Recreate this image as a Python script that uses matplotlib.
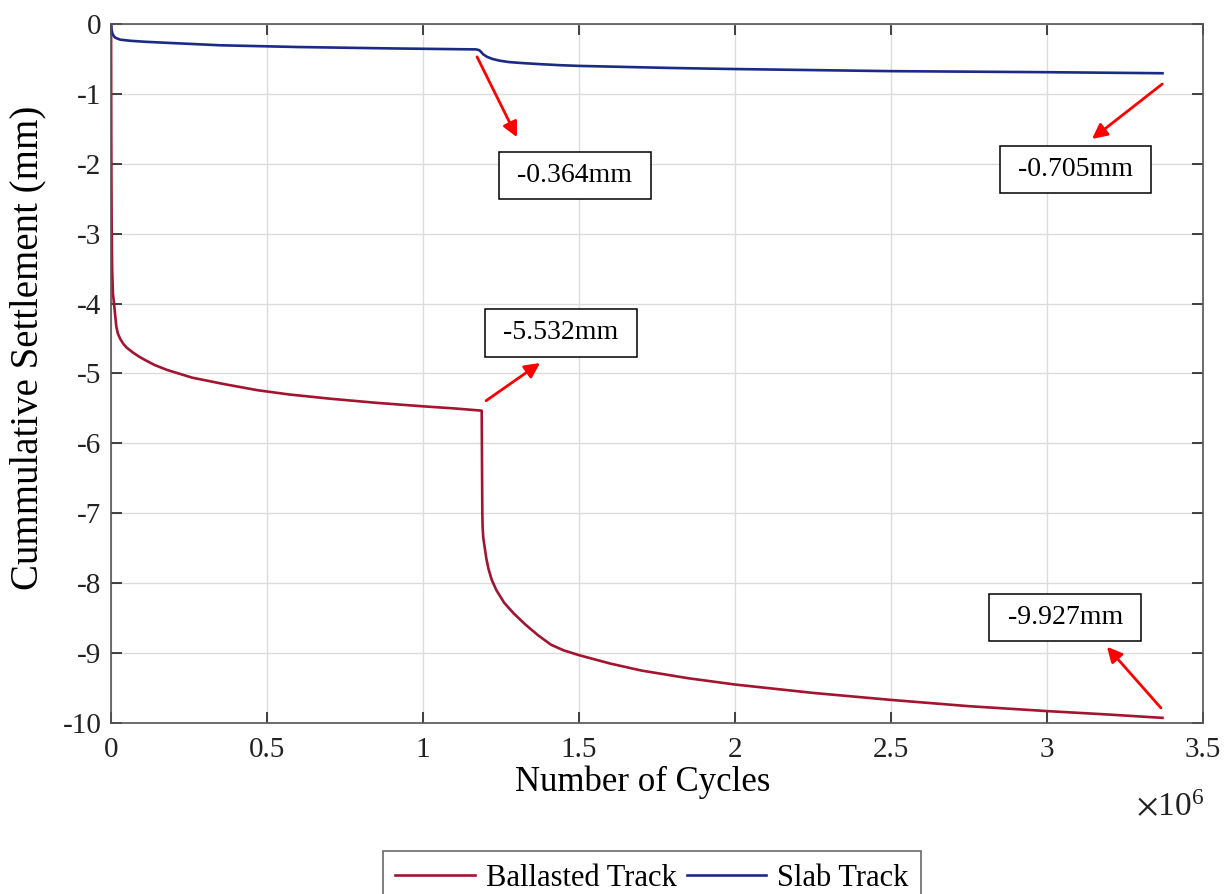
import matplotlib.pyplot as plt
from matplotlib.ticker import FuncFormatter

plt.rcParams['font.family'] = ['Liberation Serif', 'DejaVu Serif']
plt.rcParams['mathtext.fontset'] = 'stix'
plt.rcParams['axes.unicode_minus'] = False

# values (cycles, mm)
ballast_x = [0, 500, 1000, 2000, 3500, 6000, 10000, 14000, 17000, 22000, 30000,
             40000, 50000, 70000, 90000, 110000, 140000, 180000, 260000, 360000,
             470000, 570000, 700000, 850000, 1000000, 1100000, 1188000,
             1189000, 1190000, 1191000, 1193000, 1198000, 1203000, 1210000,
             1220000, 1235000, 1260000, 1290000, 1330000, 1370000, 1410000,
             1450000, 1500000, 1600000, 1700000, 1850000, 2000000, 2250000,
             2500000, 2750000, 3000000, 3200000, 3370000]
ballast_y = [0, -1.2, -2.0, -2.9, -3.5, -3.85, -4.02, -4.2, -4.33, -4.43, -4.51,
             -4.58, -4.63, -4.7, -4.76, -4.81, -4.88, -4.95, -5.06, -5.15,
             -5.24, -5.3, -5.36, -5.42, -5.47, -5.5, -5.532,
             -6.3, -7.0, -7.2, -7.35, -7.5, -7.65, -7.8,
             -7.95, -8.1, -8.28, -8.43, -8.6, -8.75, -8.88,
             -8.96, -9.03, -9.15, -9.25, -9.36, -9.45, -9.57,
             -9.67, -9.76, -9.83, -9.88, -9.927]

slab_x = [0, 1500, 4000, 8000, 15000, 30000, 60000, 110000, 180000, 350000,
          600000, 900000, 1170000, 1180000, 1186000, 1193000, 1205000, 1222000,
          1245000, 1275000, 1320000, 1375000, 1440000, 1500000, 1650000, 1800000,
          2000000, 2500000, 3000000, 3370000]
slab_y = [0, -0.08, -0.13, -0.17, -0.2, -0.225, -0.24, -0.255, -0.27, -0.305,
          -0.33, -0.35, -0.364, -0.375, -0.4, -0.435, -0.47, -0.5,
          -0.525, -0.545, -0.56, -0.575, -0.59, -0.6, -0.615, -0.63,
          -0.645, -0.675, -0.69, -0.705]

# label text, box centre, arrow tail, arrow head
notes = [
    ('-0.364mm', (1.487e6, -2.17), (1.173e6, -0.47), (1.301e6, -1.62)),
    ('-0.705mm', (3.09e6, -2.08), (3.369e6, -0.86), (3.144e6, -1.645)),
    ('-5.532mm', (1.442e6, -4.42), (1.202e6, -5.39), (1.375e6, -4.85)),
    ('-9.927mm', (3.058e6, -8.49), (3.365e6, -9.785), (3.192e6, -8.91)),
]

fig = plt.figure(figsize=(12.31, 8.94), dpi=100)
ax = fig.add_axes([0.0902, 0.1913, 0.8871, 0.7819])

ax.plot(ballast_x, ballast_y, color='#A2142F', lw=1.9, label='Ballasted Track')
ax.plot(slab_x, slab_y, color='#1B2A84', lw=1.9, label='Slab Track')

ax.set_xlim(0, 3.5e6)
ax.set_ylim(-10, 0)
ax.set_xticks([i * 0.5e6 for i in range(8)])
ax.set_yticks(range(-10, 1))
ax.xaxis.set_major_formatter(FuncFormatter(lambda v, p: '%g' % (v / 1e6)))
ax.yaxis.set_major_formatter(FuncFormatter(lambda v, p: '%d' % v))
ax.grid(True, color='#dcdcdc', lw=1)
ax.set_axisbelow(True)
ax.tick_params(direction='in', length=8, width=1.2, top=True, right=True,
               labelsize=21, colors='#222222')
ax.tick_params(axis='x', pad=10)
ax.tick_params(axis='y', pad=7)
for s in ax.spines.values():
    s.set_color('#555555')
    s.set_linewidth(1.2)

fig.text(643 / 1231, 1 - 782 / 894, 'Number of Cycles', fontsize=25,
         ha='center', va='center')
fig.text(28 / 1231, 1 - 348 / 894, 'Cummulative Settlement (mm)', fontsize=28,
         rotation=90, ha='center', va='center')
fig.text(1170 / 1231, 1 - 808 / 894, r'$\times\mathregular{10^6}$', fontsize=24,
         ha='center', va='center', color='#222222')

for txt, box, tail, head in notes:
    ax.text(box[0], box[1], ' ' + txt + ' ', fontsize=20, ha='center', va='center',
            bbox=dict(boxstyle='square,pad=0.4', fc='white', ec='black', lw=1.1))
    ax.annotate('', xy=head, xytext=tail,
                arrowprops=dict(arrowstyle='-|>,head_length=0.9,head_width=0.45',
                                color='red', lw=2, shrinkA=0, shrinkB=0))

leg = fig.legend(loc='upper center', bbox_to_anchor=(652 / 1231, 1 - 851 / 894),
                 ncol=2, fontsize=22, frameon=True, fancybox=False,
                 handlelength=2.6, columnspacing=0.35, handletextpad=0.35,
                 borderpad=0.42, borderaxespad=0, edgecolor='#444444')
leg.get_frame().set_linewidth(1.2)

fig.savefig('out.png', dpi=100)
